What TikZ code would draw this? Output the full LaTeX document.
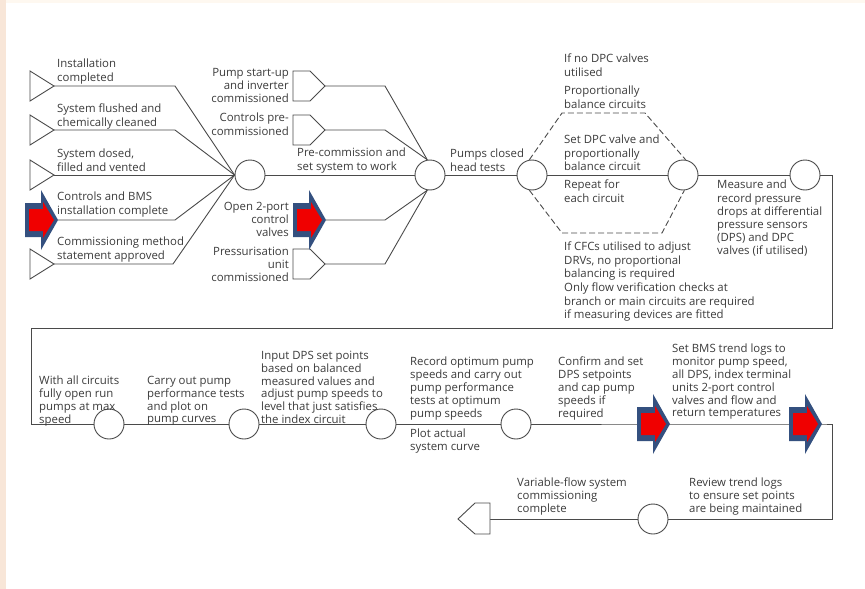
\documentclass[tikz,border=0pt]{standalone}
\usepackage{fontspec}
\setmainfont{Open Sans}
\definecolor{lncol}{HTML}{4A4A4A}
\definecolor{txtcol}{HTML}{3C3C3C}
\definecolor{arrblue}{HTML}{34507F}
\definecolor{arrred}{HTML}{F00000}
\definecolor{peach}{HTML}{F8E6D8}
\definecolor{topc}{HTML}{FEF8F0}
\newcommand\myarrow[1]{%
  \begin{scope}[shift={(#1)}]
    \fill[arrblue] (-33,-17) -- (-17,-17) -- (-17,-30) -- (0,0) -- (-17,30) -- (-17,17) -- (-33,17) -- cycle;
    \fill[arrred] (-29,-11) -- (-15,-11) -- (-15,-18) -- (-4,0) -- (-15,18) -- (-15,11) -- (-29,11) -- cycle;
  \end{scope}}
\newcommand\inshape[1]{%
  \draw[ln, fill=white, shift={(#1)}] (-32,-15) -- (-15,-15) -- (0,0) -- (-15,15) -- (-32,15) -- cycle;}
\newcommand\starttri[1]{%
  \draw[ln, fill=white, shift={(#1)}] (-24,-15) -- (0,0) -- (-24,15) -- cycle;}
\begin{document}
\begin{tikzpicture}[x=1pt,y=-1pt,
  ln/.style={draw=lncol, line width=0.9pt},
  circ/.style={circle, draw=lncol, line width=0.9pt, fill=white, minimum size=30pt, inner sep=0pt},
  txt/.style={font=\fontsize{11.4}{13.2}\selectfont, text=txtcol, inner sep=0pt, align=left, anchor=north west},
  txtb/.style={txt, font=\fontsize{11.4}{12.8}\selectfont},
  txtr/.style={txt, align=right, anchor=north east},
  hexa/.style={ln, dash pattern=on 6pt off 3pt}]
% background
\fill[white] (0,0) rectangle (865,589);
\fill[peach] (0,0) rectangle (6,589);
\fill[topc] (6,0) rectangle (865,3);
\useasboundingbox (0,0) rectangle (865,589);

% coordinates
\coordinate (s1) at (54,86);
\coordinate (s2) at (54,130);
\coordinate (s3) at (54,175);
\coordinate (s4) at (58,220);
\coordinate (s5) at (54,264);
\coordinate (b1) at (175,86);
\coordinate (b2) at (175,130);
\coordinate (b4) at (175,220);
\coordinate (b5) at (173,264);
\coordinate (p1) at (325,86);
\coordinate (p2) at (325,130);
\coordinate (p3) at (326,220);
\coordinate (p4) at (325,264);
\coordinate (q1) at (385,86);
\coordinate (q2) at (385,130);
\coordinate (q3) at (385,220);
\coordinate (q4) at (385,264);
\coordinate (h1) at (562,113);
\coordinate (h2) at (645,113);
\coordinate (h3) at (662,233);
\coordinate (h4) at (562,233);
\coordinate (e1) at (832,175);
\coordinate (e2) at (832,328);
\coordinate (e3) at (31,328);
\coordinate (e4) at (31,424);
\coordinate (g1) at (670,424);
\coordinate (g2) at (822,424);
\coordinate (e5) at (832,424);
\coordinate (e6) at (832,519);
\coordinate (fa) at (458,519);
\coordinate (fin) at (490,519);

% circles
\node[circ] (c1) at (250,175) {};
\node[circ] (c2) at (430,175) {};
\node[circ] (c3) at (532,175) {};
\node[circ] (c4) at (683,175) {};
\node[circ] (c5) at (805,175) {};
\node[circ] (r1) at (109,424) {};
\node[circ] (r2) at (244,424) {};
\node[circ] (r3) at (381,424) {};
\node[circ] (r4) at (516,424) {};
\node[circ] (r5) at (653,519) {};

% connectors
\draw[ln] (s1) -- (b1) -- (c1.west);
\draw[ln] (s2) -- (b2) -- (c1.west);
\draw[ln] (s3) -- (c1.west);
\draw[ln] (s4) -- (b4) -- (c1.west);
\draw[ln] (s5) -- (b5) -- (c1.west);
\draw[ln] (c1) -- (c2);
\draw[ln] (p1) -- (q1) -- (c2.100);
\draw[ln] (p2) -- (q2) -- (c2.100);
\draw[ln] (p3) -- (q3) -- (c2.260);
\draw[ln] (p4) -- (q4) -- (c2.260);
\draw[ln] (c2) -- (c3);
\draw[hexa] (c3.100) -- (h1) -- (h2) -- (c4.80);
\draw[hexa] (c3.260) -- (h4) -- (h3) -- (c4.275);
\draw[ln] (c3) -- (c4);
\draw[ln] (c4) -- (c5);
\draw[ln] (c5.east) -- (e1) -- (e2) -- (e3) -- (e4) -- (r1.west);
\draw[ln] (r1) -- (r2);
\draw[ln] (r2) -- (r3);
\draw[ln] (r3) -- (r4);
\draw[ln] (r4) -- (g1) -- (g2) -- (e5) -- (e6) -- (r5.east);
\draw[ln] (r5) -- (fin);

% shapes
\starttri{s1}
\starttri{s2}
\starttri{s3}
\starttri{s5}
\myarrow{s4}
\inshape{p1}
\inshape{p2}
\inshape{p4}
\myarrow{p3}
\myarrow{g1}
\myarrow{g2}
\draw[ln, fill=white, shift={(fa)}] (0,0) -- (17,-16) -- (32,-16) -- (32,15) -- (17,15) -- cycle;

% texts
\node[txt] (t1) at (57,59) {Installation\\completed};
\node[txt] (t2) at (57,104) {System flushed and\\chemically cleaned};
\node[txt] (t3) at (57,149) {System dosed,\\filled and vented};
\node[txt] (t4) at (57,192) {Controls and BMS\\installation complete};
\node[txt] (t5) at (57,237) {Commissioning method\\statement approved};
\node[txtr] (u1) at (289,68) {Pump start-up\\and inverter\\commissioned};
\node[txtr] (u2) at (289,113) {Controls pre-\\commissioned};
\node[txtr] (u3) at (289,202) {Open 2-port\\control\\valves};
\node[txtr] (u4) at (289,247) {Pressurisation\\unit\\commissioned};
\node[txt] (u5) at (297,148) {Pre-commission and\\set system to work};
\node[txt] (u6) at (450,149) {Pumps closed\\head tests};
\node[txt] (v1) at (564,54) {If no DPC valves\\utilised};
\node[txt] (v2) at (564,86) {Proportionally\\balance circuits};
\node[txt] (v3) at (564,135) {Set DPC valve and\\proportionally\\balance circuit};
\node[txt] (v4) at (564,180) {Repeat for\\each circuit};
\node[txt] (v5) at (564,242) {If CFCs utilised to adjust\\DRVs, no proportional\\balancing is required};
\node[txt] (v6) at (564,283) {Only flow verification checks at\\branch or main circuits are required\\if measuring devices are fitted};
\node[txt] (v7) at (717,180) {Measure and\\record pressure\\drops at differential\\pressure sensors\\(DPS) and DPC\\valves (if utilised)};
\node[txtb] (w1) at (39,376) {With all circuits\\fully open run\\pumps at max\\speed};
\node[txtb] (w2) at (147,376) {Carry out pump\\performance tests\\and plot on\\pump curves};
\node[txtb] (w3) at (261,351) {Input DPS set points\\based on balanced\\measured values and\\adjust pump speeds to\\level that just satisfies\\the index circuit};
\node[txtb] (w4) at (410,357) {Record optimum pump\\speeds and carry out\\pump performance\\tests at optimum\\pump speeds};
\node[txtb] (w5) at (410,429) {Plot actual\\system curve};
\node[txtb] (w6) at (558,357) {Confirm and set\\DPS setpoints\\and cap pump\\speeds if\\required};
\node[txtb] (w7) at (672,344) {Set BMS trend logs to\\monitor pump speed,\\all DPS, index terminal\\units 2-port control\\valves and flow and\\return temperatures};
\node[txtb] (w8) at (517,478) {Variable-flow system\\commissioning\\complete};
\node[txtb] (w9) at (689,478) {Review trend logs\\to ensure set points\\are being maintained};
\end{tikzpicture}
\end{document}
